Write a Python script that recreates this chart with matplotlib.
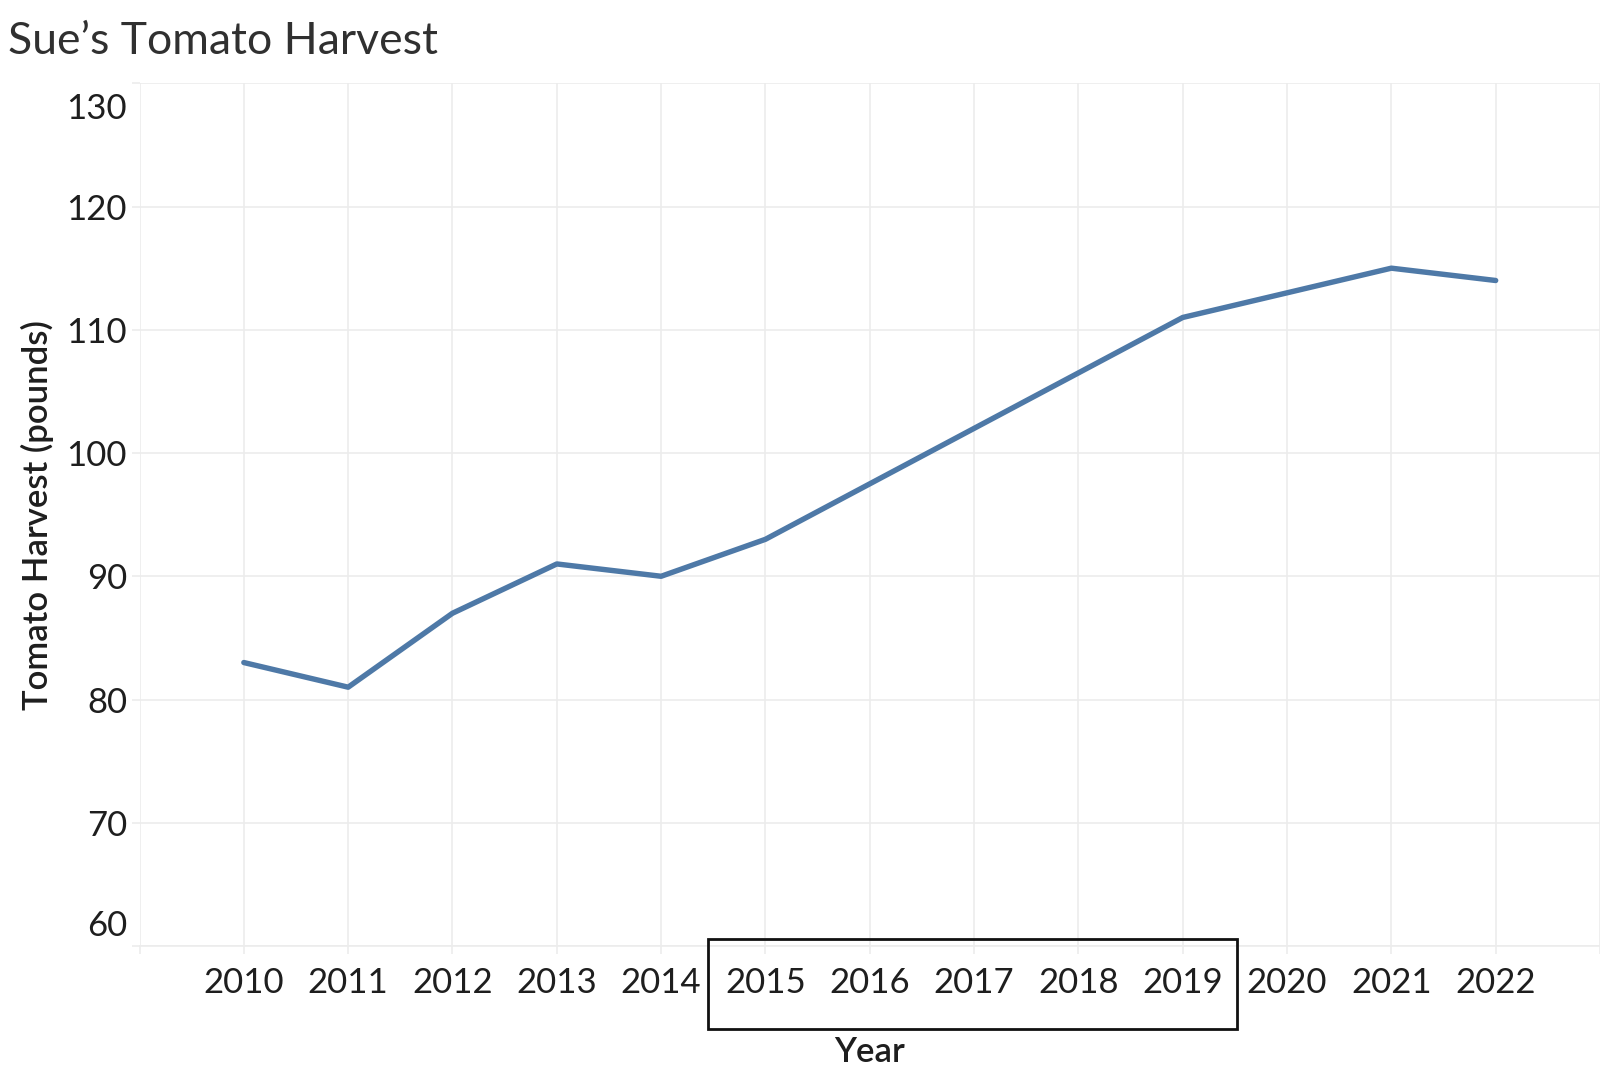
import matplotlib.pyplot as plt
import matplotlib.patches as patches
import matplotlib.transforms as transforms

# Data
years = [2010, 2011, 2012, 2013, 2014, 2015, 2016, 2017, 2018, 2019, 2020, 2021, 2022]
harvest = [83, 81, 87, 91, 90, 93, 97.5, 102, 106.5, 111, 113, 115, 114]
y_ticks = [60, 70, 80, 90, 100, 110, 120, 130]

plt.rcParams['font.family'] = ['Lato', 'DejaVu Sans']
grid_color = '#ececec'
text_color = '#1e1e1e'

fig = plt.figure(figsize=(16, 10.82), dpi=100)
ax = fig.add_axes([0.0872, 0.1257, 0.9128, 0.7973])

ax.plot(years, harvest, color='#4e79a7', linewidth=3.9, solid_capstyle='round', zorder=3)

ax.set_xlim(2009, 2023)
ax.set_ylim(60, 130)
ax.set_xticks(range(2009, 2024))
ax.set_xticklabels([''] + [str(y) for y in years] + [''])
ax.set_yticks(y_ticks)
ax.set_yticklabels([str(v) for v in y_ticks])

ax.grid(True, color=grid_color, linewidth=1.2, zorder=0)
for s in ['top', 'right', 'left']:
    ax.spines[s].set_visible(False)
ax.spines['bottom'].set_color(grid_color)
ax.spines['bottom'].set_linewidth(1.2)

ax.tick_params(axis='both', colors=grid_color, length=6, width=1.2,
               labelcolor=text_color, labelsize=25)
ax.tick_params(axis='x', pad=9)
ax.tick_params(axis='y', pad=3)

# Tableau keeps the end labels inside the pane
ylabels = ax.get_yticklabels()
ylabels[0].set_verticalalignment('bottom')
ylabels[0].set_transform(ylabels[0].get_transform() +
                         transforms.ScaledTranslation(0, 3 / 72, fig.dpi_scale_trans))
ylabels[-1].set_verticalalignment('top')
ylabels[-1].set_transform(ylabels[-1].get_transform() +
                          transforms.ScaledTranslation(0, -7 / 72, fig.dpi_scale_trans))

ax.set_ylabel('Tomato Harvest (pounds)', fontsize=25, fontweight='semibold',
              color=text_color, labelpad=9)
ax.set_xlabel('Year', fontsize=25, fontweight='semibold', color=text_color, labelpad=27)

fig.text(0.005, 0.962, 'Sue\u2019s Tomato Harvest', fontsize=32, fontweight='normal',
         color='#303030', ha='left', va='center')

# Box around 2015-2019 labels
trans = transforms.blended_transform_factory(ax.transData, fig.transFigure)
box = patches.Rectangle((2014.45, 0.049), 5.07, 0.083, transform=trans,
                        fill=False, edgecolor='#111111', linewidth=2,
                        clip_on=False, zorder=5)
fig.patches.append(box)

fig.savefig('out.png', dpi=100, facecolor='white')
